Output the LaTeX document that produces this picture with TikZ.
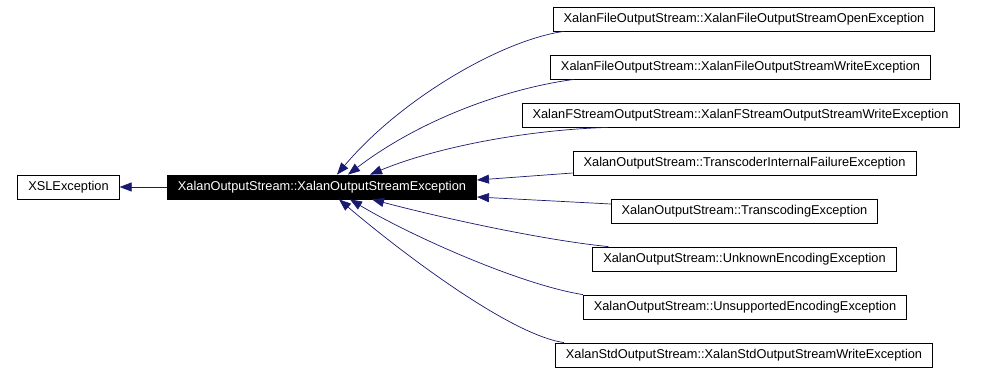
\documentclass[tikz,border=0pt]{standalone}
\usepackage{fontspec}
\setmainfont{Liberation Sans}
\usetikzlibrary{arrows.meta,calc}
\definecolor{edgeblue}{RGB}{25,25,112}

\begin{document}
\begin{tikzpicture}[x=1pt, y=-1pt, font=\fontsize{12.8}{14}\selectfont,
  classbox/.style={draw=black, line width=0.8pt, fill=white, inner xsep=10.5pt, inner ysep=0pt, minimum height=24pt},
  curbox/.style={classbox, fill=black, text=white},
  inherit/.style={edgeblue, line width=0.7pt, -{Triangle[length=12pt,width=9pt]}}]
  \useasboundingbox (0,0) rectangle (982,374);

  % base and current class
  \node[classbox] (xsl) at (68.5,187) {XSLException};
  \node[curbox] (mainexc) at (322,187) {XalanOutputStream::XalanOutputStreamException};

  % derived classes, one column on the right
  \foreach \n/\x/\y/\t in {
    openexc/744/19/XalanFileOutputStream::XalanFileOutputStreamOpenException,
    writeexc/740.5/67/XalanFileOutputStream::XalanFileOutputStreamWriteException,
    fstreamexc/740.5/115/XalanFStreamOutputStream::XalanFStreamOutputStreamWriteException,
    tcfailexc/744.5/163/XalanOutputStream::TranscoderInternalFailureException,
    tcodexc/744.5/211/XalanOutputStream::TranscodingException,
    unknownexc/744.5/259/XalanOutputStream::UnknownEncodingException,
    unsuppexc/745/307/XalanOutputStream::UnsupportedEncodingException,
    stdexc/744/355/XalanStdOutputStream::XalanStdOutputStreamWriteException}
    \node[classbox] (\n) at (\x,\y) {\t};

  % inheritance edges
  \draw[inherit] (mainexc.west) -- (xsl.east);
  \draw[inherit] ($(openexc.south west)+(11,0)$) .. controls +(-63,9) and +(63,-75) .. ($(mainexc.north)+(15,0)$);
  \draw[inherit] ($(writeexc.south west)+(24,0)$) .. controls +(-68,9) and +(72,-55) .. ($(mainexc.north)+(26,0)$);
  \draw[inherit] ($(fstreamexc.south west)+(86,0)$) .. controls +(-90,3) and +(60,-25) .. ($(mainexc.north)+(48,0)$);
  \draw[inherit] ($(tcfailexc.west)+(0,10)$) -- ($(mainexc.east)+(0,-7)$);
  \draw[inherit] ($(tcodexc.west)+(0,-7)$) -- ($(mainexc.east)+(0,10)$);
  \draw[inherit] ($(unknownexc.north west)+(16,0)$) .. controls +(-70,-7) and +(60,16) .. ($(mainexc.south)+(50,0)$);
  \draw[inherit] (unsuppexc.north west) .. controls +(-63,-10) and +(60,36) .. ($(mainexc.south)+(28,0)$);
  \draw[inherit] ($(stdexc.north west)+(9,0)$) .. controls +(-55,-8) and +(60,51) .. ($(mainexc.south)+(17,0)$);
\end{tikzpicture}
\end{document}
